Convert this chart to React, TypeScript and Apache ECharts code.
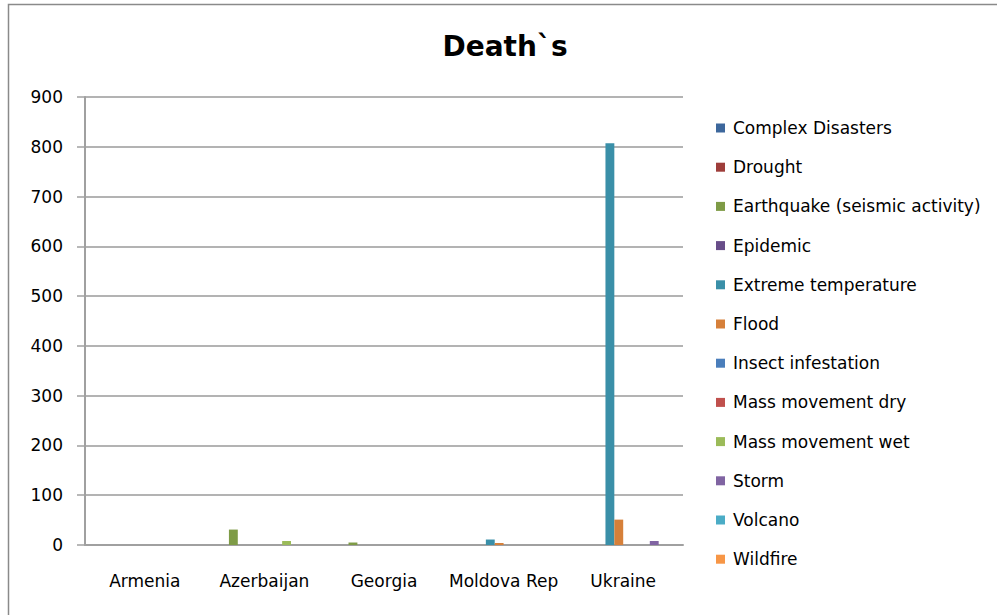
import React, { useEffect, useRef } from "react";
import * as echarts from "echarts";

const countries = ["Armenia", "Azerbaijan", "Georgia", "Moldova Rep", "Ukraine"];

const disasterTypes = [
  "Complex Disasters",
  "Drought",
  "Earthquake (seismic activity)",
  "Epidemic",
  "Extreme temperature",
  "Flood",
  "Insect infestation",
  "Mass movement dry",
  "Mass movement wet",
  "Storm",
  "Volcano",
  "Wildfire",
];

// deaths per disaster type, one value per country
const complexDisasters = [0, 0, 0, 0, 0];
const drought = [0, 0, 0, 0, 0];
const earthquake = [0, 31, 5, 0, 0];
const epidemic = [0, 0, 0, 0, 0];
const extremeTemperature = [0, 0, 0, 11, 807];
const flood = [0, 0, 0, 4, 51];
const insectInfestation = [0, 0, 0, 0, 0];
const massMovementDry = [0, 0, 0, 0, 0];
const massMovementWet = [0, 8, 0, 0, 0];
const storm = [0, 0, 0, 0, 8];
const volcano = [0, 0, 0, 0, 0];
const wildfire = [0, 0, 0, 0, 0];

const seriesValues = [
  complexDisasters,
  drought,
  earthquake,
  epidemic,
  extremeTemperature,
  flood,
  insectInfestation,
  massMovementDry,
  massMovementWet,
  storm,
  volcano,
  wildfire,
];

const palette = [
  "#3D679C",
  "#9E3D3A",
  "#7E9B46",
  "#684D89",
  "#3A8FA8",
  "#D6803A",
  "#4A7EBB",
  "#C0504D",
  "#9BBB59",
  "#8064A2",
  "#4BACC6",
  "#F79646",
];

const yTicks = [0, 100, 200, 300, 400, 500, 600, 700, 800, 900];

const FONT = "DejaVu Sans";

export default function App() {
  const ref = useRef<HTMLDivElement>(null);

  useEffect(() => {
    if (!ref.current) return;
    const chart = echarts.init(ref.current, null, { renderer: "svg" });
    chart.setOption({
      animation: false,
      backgroundColor: "#ffffff",
      color: palette,
      title: {
        text: "Death`s",
        left: 500,
        top: 27,
        textAlign: "center",
        textStyle: {
          fontFamily: FONT,
          fontSize: 28,
          fontWeight: "bold",
          color: "#000000",
        },
      },
      graphic: [
        {
          type: "rect",
          shape: { x: 8.5, y: 4.5, width: 1100, height: 700 },
          style: { fill: "none", stroke: "#8a8a8a", lineWidth: 1.5 },
          silent: true,
        },
      ],
      legend: {
        orient: "vertical",
        left: 711,
        top: 113,
        itemWidth: 9,
        itemHeight: 9,
        itemGap: 19.2,
        icon: "rect",
        textStyle: {
          fontFamily: FONT,
          fontSize: 17,
          color: "#000000",
          lineHeight: 20,
          padding: [0, 0, 0, 3],
        },
        data: disasterTypes,
      },
      grid: {
        left: 85,
        top: 97,
        right: 314,
        bottom: 70,
        containLabel: false,
      },
      xAxis: {
        type: "category",
        data: countries,
        axisLine: { lineStyle: { color: "#a0a0a0", width: 2 } },
        axisTick: { show: false },
        axisLabel: {
          interval: 0,
          fontFamily: FONT,
          fontSize: 17,
          color: "#000000",
          margin: 27,
        },
      },
      yAxis: {
        type: "value",
        min: 0,
        max: 900,
        interval: 100,
        axisLine: { show: true, lineStyle: { color: "#a0a0a0", width: 2 } },
        axisTick: { show: true, length: 8, lineStyle: { color: "#a0a0a0", width: 1.5 } },
        splitLine: { lineStyle: { color: "#9a9a9a", width: 1.5 } },
        axisLabel: {
          fontFamily: FONT,
          fontSize: 17,
          color: "#000000",
          margin: 22,
          customValues: yTicks,
        },
      },
      series: disasterTypes.map((name, i) => ({
        name,
        type: "bar",
        data: seriesValues[i],
        barGap: "0%",
        barCategoryGap: "11%",
        itemStyle: { color: palette[i] },
      })),
    });
    return () => chart.dispose();
  }, []);

  return (
    <div
      ref={ref}
      style={{ position: "absolute", left: 0, top: 0, width: 997, height: 615 }}
    />
  );
}
